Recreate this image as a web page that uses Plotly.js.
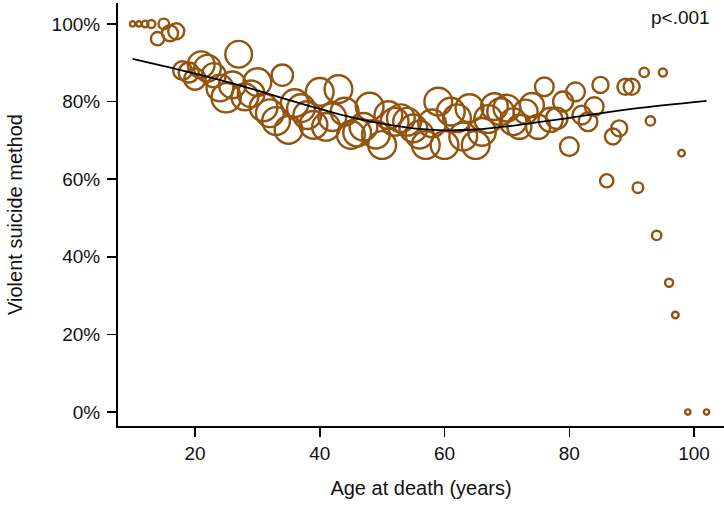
<!DOCTYPE html>
<html>
<head>
<meta charset="utf-8">
<script src="https://cdn.plot.ly/plotly-3.0.1.min.js"></script>
<style>html,body{margin:0;padding:0;background:#fff;}#chart{width:724px;height:507px;}</style>
</head>
<body>
<div id="chart"></div>
<script>
// Age at death (years)
const ages = [10,11,12,13,14,15,16,17,18,19,20,21,22,23,24,25,26,27,28,29,30,31,32,33,34,35,36,37,38,39,40,41,42,43,44,45,46,47,48,49,50,51,52,53,54,55,56,57,58,59,60,61,62,63,64,65,66,67,68,69,70,71,72,73,74,75,76,77,78,79,80,81,82,83,84,85,86,87,88,89,90,91,92,93,94,95,96,97,98,99,102];
// Share of violent suicide method (%)
const violentPct = [100,100,100,100,96.2,100,97.6,98.1,88.0,87.5,85.8,89.5,88.6,86.8,83.5,81.0,84.3,92.2,81.2,82.0,85.0,78.5,77.0,75.0,86.8,72.7,79.6,78.3,76.5,74.0,82.5,73.5,76.0,83.2,77.4,71.4,72.0,73.5,78.7,71.5,68.8,76.5,74.8,75.7,74.8,73.1,71.5,68.8,74.4,80.0,68.8,77.4,75.7,71.0,78.3,68.8,72.2,75.5,78.7,77.4,78.3,74.8,73.5,77.4,79.1,73.5,83.8,75.3,75.7,80.0,68.4,82.5,76.5,74.8,78.7,84.3,59.6,71.0,73.1,83.8,83.8,57.8,87.5,75.0,45.5,87.5,33.3,25.0,66.7,0,0];
// Number of suicides at each age
const nSuicides = [11,11,17,25,69,44,100,100,136,156,178,278,278,225,278,336,278,278,278,278,300,300,300,300,178,300,300,300,300,300,300,300,300,300,300,300,300,300,300,300,300,300,300,300,300,300,300,300,300,300,300,300,300,300,300,300,300,300,278,278,278,278,225,225,225,225,136,225,178,156,136,136,136,136,136,100,69,100,100,100,100,44,34,34,34,25,25,17,17,11,11];
// Fitted trend
const fitAge = [10,20,28,37,45,50,55,60,65,70,80,90,102];
const fitPct = [91.0,87.2,83.8,79.5,76.0,74.3,73.1,72.6,72.8,73.6,75.8,78.1,80.2];

const brown = '#93540F';
const FAM = 'Liberation Sans, Arial, sans-serif';
const tickFont = {family: FAM, size: 19, color: '#111'};

const traces = [
  {
    x: ages, y: violentPct, type: 'scatter', mode: 'markers',
    marker: {symbol: 'circle-open', color: brown, opacity: 1, size: nSuicides, sizemode: 'area', sizeref: 0.78,
             line: {width: 2.4, color: brown}},
    hoverinfo: 'x+y'
  },
  {
    x: fitAge, y: fitPct, type: 'scatter', mode: 'lines',
    line: {color: '#000', width: 1.8, shape: 'spline', smoothing: 1},
    hoverinfo: 'skip'
  }
];

const layout = {
  width: 724, height: 507,
  margin: {l: 118, r: 0, t: 3, b: 81},
  paper_bgcolor: '#fff', plot_bgcolor: '#fff',
  showlegend: false,
  font: tickFont,
  xaxis: {
    range: [7.66, 104.8], tickvals: [20,40,60,80,100], ticktext: ['20','40','60','80','100'],
    showgrid: false, zeroline: false, showline: true, linecolor: '#000', linewidth: 2,
    ticks: 'outside', ticklen: 9, tickwidth: 1.5, tickcolor: '#000',
    tickfont: tickFont,
    title: {text: 'Age at death (years)', font: {family: FAM, size: 20, color: '#111'}, standoff: 18}
  },
  yaxis: {
    range: [-3.6, 105.4], tickvals: [0,20,40,60,80,100], ticktext: ['0%','20%','40%','60%','80%','100%'],
    showgrid: false, zeroline: false, showline: true, linecolor: '#000', linewidth: 2,
    ticks: 'outside', ticklen: 9, tickwidth: 1.5, tickcolor: '#000',
    tickfont: tickFont, ticklabelstandoff: 3,
    title: {text: 'Violent suicide method', font: {family: FAM, size: 20, color: '#111'}, standoff: 24}
  },
  annotations: [{
    xref: 'paper', yref: 'paper', x: 0.98, y: 0.995, xanchor: 'right', yanchor: 'top',
    text: 'p<.001', showarrow: false, font: {family: FAM, size: 19, color: '#111'}
  }]
};

Plotly.newPlot('chart', traces, layout, {displayModeBar: false, staticPlot: true});
</script>
</body>
</html>
